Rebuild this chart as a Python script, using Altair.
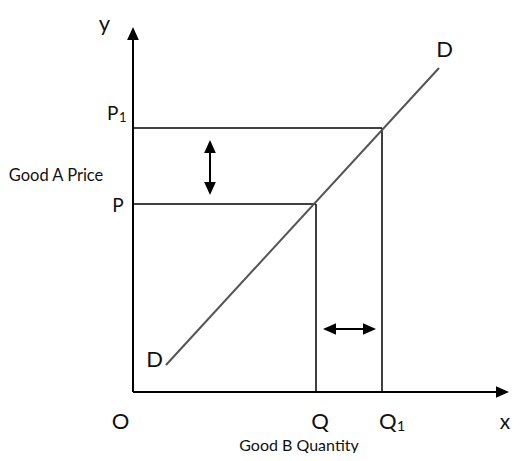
import altair as alt
import pandas as pd

# Values measured from the origin O (arbitrary units)
price_labels = ["P", "P"]
price_subs = ["", "1"]
price_values = [188, 264]
qty_labels = ["Q", "Q"]
qty_subs = ["", "1"]
qty_values = [183, 249]
demand_x = [33, 306]
demand_y = [27, 324]
axis_x_tip = 376
axis_y_tip = 365
price_arrow_x = 77
price_arrow_span = [197, 252]
qty_arrow_y = 63
qty_arrow_span = [190, 243]

W, H = 503, 445
x_scale = alt.Scale(domain=[-125, 378], nice=False, zero=False)
y_scale = alt.Scale(domain=[-61, 384], nice=False, zero=False)
FONT = "Lato"
HEAD = 6.5

guides = pd.DataFrame({
    "x": [0, 0, qty_values[0], qty_values[1]],
    "x2": [qty_values[0], qty_values[1], qty_values[0], qty_values[1]],
    "y": [price_values[0], price_values[1], 0, 0],
    "y2": [price_values[0], price_values[1], price_values[0], price_values[1]],
})
axes_df = pd.DataFrame({
    "x": [0, 0], "x2": [0, axis_x_tip - 6],
    "y": [0, 0], "y2": [axis_y_tip - 6, 0],
})
shafts = pd.DataFrame({
    "x": [price_arrow_x, qty_arrow_span[0] + 3],
    "x2": [price_arrow_x, qty_arrow_span[1] - 3],
    "y": [price_arrow_span[0] + 3, qty_arrow_y],
    "y2": [price_arrow_span[1] - 3, qty_arrow_y],
})
demand = pd.DataFrame({"x": [demand_x[0]], "x2": [demand_x[1]],
                       "y": [demand_y[0]], "y2": [demand_y[1]]})

heads = pd.DataFrame({
    "x": [0, axis_x_tip - HEAD, price_arrow_x, price_arrow_x,
          qty_arrow_span[0] + HEAD, qty_arrow_span[1] - HEAD],
    "y": [axis_y_tip - HEAD, 0, price_arrow_span[1] - HEAD,
          price_arrow_span[0] + HEAD, qty_arrow_y, qty_arrow_y],
    "angle": [0, 90, 0, 180, 270, 90],
})

centered = pd.DataFrame({
    "text": ["y", price_labels[0], "Good A Price", "D", "D", "O",
             qty_labels[0], "x", "Good B Quantity"],
    "x": [-28.5, -15, -77, 311.5, 21.5, -12.5, qty_values[0] + 4, 372, 166],
    "y": [361, price_values[0] - 8, 211, 335, 25, -37, -37, -37, -59],
    "fs": [22, 19, 16.5, 22, 22, 22, 22, 21, 16],
})
left = pd.DataFrame({
    "text": [price_labels[1], price_subs[1], qty_labels[1], qty_subs[1]],
    "x": [-26, -14, qty_values[1] - 3, qty_values[1] + 15],
    "y": [price_values[1] + 8, price_values[1] + 6, -37, -39],
    "fs": [19, 13, 22, 14],
})

def seg(df, color="black", width=1.6):
    return alt.Chart(df).mark_rule(color=color, strokeWidth=width).encode(
        x=alt.X("x:Q", scale=x_scale, axis=None),
        x2="x2:Q",
        y=alt.Y("y:Q", scale=y_scale, axis=None),
        y2="y2:Q",
    )

head_layer = alt.Chart(heads).mark_point(
    shape="M0,-1L0.9,1L-0.9,1Z", filled=True, color="black", opacity=1,
    size=(2 * HEAD) ** 2, strokeWidth=0,
).encode(
    x=alt.X("x:Q", scale=x_scale, axis=None),
    y=alt.Y("y:Q", scale=y_scale, axis=None),
    angle=alt.Angle("angle:Q", scale=None),
)

def texts(df, align):
    return alt.Chart(df).mark_text(
        font=FONT, color="#111111", align=align, baseline="alphabetic"
    ).encode(
        x=alt.X("x:Q", scale=x_scale, axis=None),
        y=alt.Y("y:Q", scale=y_scale, axis=None),
        text="text:N",
        size=alt.Size("fs:Q", scale=None, legend=None),
    )

chart = alt.layer(
    seg(guides, width=1.5),
    seg(demand, color="#555555", width=2),
    seg(axes_df, width=2),
    seg(shafts, width=2),
    head_layer,
    texts(centered, "center"),
    texts(left, "left"),
).properties(
    width=W, height=H, padding=0,
    autosize=alt.AutoSizeParams(type="none"),
).configure_view(stroke=None)

chart.save("out.html", embed_options={"renderer": "svg", "actions": False})
